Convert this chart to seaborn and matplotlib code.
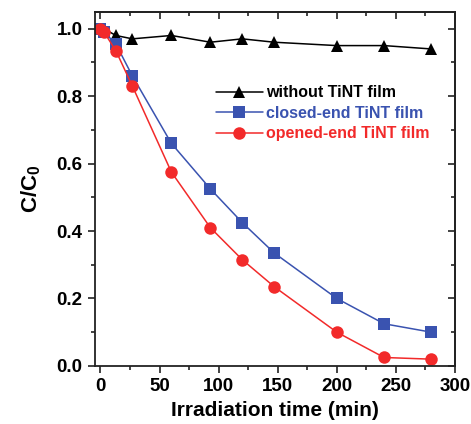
import matplotlib
matplotlib.use("Agg")
import matplotlib.pyplot as plt
from matplotlib.ticker import MultipleLocator
import seaborn as sns
import pandas as pd

### DATA ###

time_min = [0, 3, 13, 27, 60, 93, 120, 147, 200, 240, 280]
without_film = [1.0, 1.0, 0.98, 0.97, 0.98, 0.96, 0.97, 0.96, 0.95, 0.95, 0.94]
closed_end = [1.0, 0.99, 0.955, 0.86, 0.66, 0.525, 0.425, 0.335, 0.2, 0.125, 0.1]
opened_end = [1.0, 0.99, 0.935, 0.83, 0.575, 0.41, 0.315, 0.235, 0.1, 0.025, 0.02]

labels = ["without TiNT film", "closed-end TiNT film", "opened-end TiNT film"]
colors = ["black", "#3a53b0", "#f22a2a"]
markers = ["^", "s", "o"]

### PLOT ###

df = pd.DataFrame({
    "time": time_min * 3,
    "c": without_film + closed_end + opened_end,
    "series": [labels[0]] * len(time_min) + [labels[1]] * len(time_min) + [labels[2]] * len(time_min),
})

sns.set_style("ticks")
plt.rcParams["font.family"] = ["Liberation Sans", "DejaVu Sans"]
plt.rcParams["font.weight"] = "bold"
plt.rcParams["mathtext.fontset"] = "custom"
plt.rcParams["mathtext.rm"] = "Liberation Sans:bold"
plt.rcParams["mathtext.bf"] = "Liberation Sans:bold"
plt.rcParams["text.color"] = "black"
plt.rcParams["axes.labelcolor"] = "black"
plt.rcParams["xtick.color"] = "#222222"
plt.rcParams["ytick.color"] = "#222222"
plt.rcParams["xtick.labelcolor"] = "black"
plt.rcParams["ytick.labelcolor"] = "black"
plt.rcParams["axes.edgecolor"] = "#222222"

fig = plt.figure(figsize=(4.71, 4.24), dpi=100)
ax = fig.add_axes([0.202, 0.137, 0.764, 0.835])

for lab, col, mk in zip(labels, colors, markers):
    sub = df[df["series"] == lab]
    sns.lineplot(data=sub, x="time", y="c", ax=ax, color=col, marker=mk,
                 markersize=9, markeredgewidth=0, linewidth=1.1, label=lab)

ax.set_xlim(-4.5, 300)
ax.set_ylim(0, 1.05)
ax.xaxis.set_major_locator(MultipleLocator(50))
ax.xaxis.set_minor_locator(MultipleLocator(25))
ax.yaxis.set_major_locator(MultipleLocator(0.2))
ax.yaxis.set_minor_locator(MultipleLocator(0.1))
ax.tick_params(which="both", direction="out", width=1.2)
ax.tick_params(which="major", length=5, labelsize=13.5, pad=4)
ax.tick_params(which="minor", length=3)
ax.set_xticks([0, 50, 100, 150, 200, 250, 300])
ax.set_xticklabels(["0", "50", "100", "150", "200", "250", "300"])
ax.set_yticklabels([f"{v:.1f}" for v in ax.get_yticks()])
for s in ax.spines.values():
    s.set_linewidth(1.3)

# mirrored ticks on top and right, pointing inward
top = ax.secondary_xaxis("top")
top.xaxis.set_major_locator(MultipleLocator(50))
top.xaxis.set_minor_locator(MultipleLocator(25))
top.tick_params(which="both", direction="in", width=1.2, labeltop=False)
top.tick_params(which="major", length=5)
top.tick_params(which="minor", length=3)
right = ax.secondary_yaxis("right")
right.yaxis.set_major_locator(MultipleLocator(0.2))
right.yaxis.set_minor_locator(MultipleLocator(0.1))
right.tick_params(which="both", direction="in", width=1.2, labelright=False)
right.tick_params(which="major", length=5)
right.tick_params(which="minor", length=3)
top.spines["top"].set_linewidth(1.3)
right.spines["right"].set_linewidth(1.3)

ax.set_xlabel("Irradiation time (min)", fontsize=15, fontweight="bold", labelpad=4)
ax.set_ylabel(r"C/C$_\mathbf{0}$", fontsize=16, fontweight="bold", labelpad=10)

leg = ax.legend(loc="upper right", bbox_to_anchor=(0.955, 0.82), frameon=False,
                fontsize=11.5, handlelength=2.9, handletextpad=0.2, labelspacing=0.35,
                borderaxespad=0.2)
for t, col in zip(leg.get_texts(), colors):
    t.set_color(col)
    t.set_fontweight("bold")

fig.savefig("out.png", dpi=100)
